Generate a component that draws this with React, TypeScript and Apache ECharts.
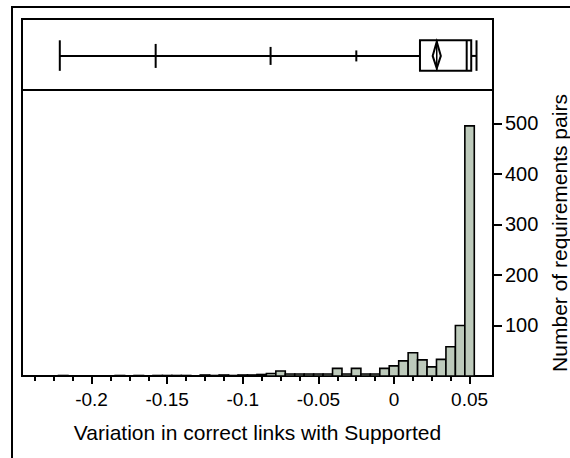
import React, { useEffect, useRef } from "react";
import * as echarts from "echarts";

// Histogram bins (bin centres, counts); bin width 0.00625
const binCenters = [
  -0.21875, -0.18125, -0.16875, -0.15625, -0.15, -0.14375, -0.1375, -0.125,
  -0.11875, -0.1125, -0.10625, -0.1, -0.09375, -0.0875, -0.08125, -0.075,
  -0.06875, -0.0625, -0.05625, -0.05, -0.04375, -0.0375, -0.03125, -0.025,
  -0.01875, -0.0125, -0.00625, 0, 0.00625, 0.0125, 0.01875, 0.025, 0.03125,
  0.0375, 0.04375, 0.05,
];
const binCounts = [
  1, 1, 1, 1, 1, 1, 1, 2,
  1, 2, 1, 2, 2, 3, 5, 10,
  4, 4, 4, 4, 4, 15, 4, 15,
  4, 4, 15, 20, 30, 46, 32, 18, 33,
  58, 100, 495,
];
const binWidth = 0.00625;

// Axis ticks / labels
const xMin = -0.246;
const xMax = 0.0655;
const xLabelValues = [-0.2, -0.15, -0.1, -0.05, 0, 0.05];
const xMinorTickValues = [
  -0.2375, -0.225, -0.2125, -0.2, -0.1875, -0.175, -0.1625, -0.15, -0.1375,
  -0.125, -0.1125, -0.1, -0.0875, -0.075, -0.0625, -0.05, -0.0375, -0.025,
  -0.0125, 0, 0.0125, 0.025, 0.0375, 0.05,
];
const yMax = 566;
const yTickValues = [100, 200, 300, 400, 500];

// Quantile box plot summary
const whiskerMin = -0.221;
const quantileTicks = [-0.1576, -0.0816, -0.0249]; // 0.5%, 2.5%, 10%
const q1 = 0.0172;
const median = 0.0481;
const q3 = 0.0511;
const whiskerMax = 0.0546;
const mean = 0.0283;
const meanCIHalf = 0.0027;

const xTitle = "Variation in correct links with Supported";
const yTitle = "Number of requirements pairs";

const FONT = "'Liberation Sans', Arial, sans-serif";

export default function App() {
  const ref = useRef<HTMLDivElement>(null);
  useEffect(() => {
    if (!ref.current) return;
    const chart = echarts.init(ref.current, undefined, { renderer: "svg" });
    const tickHalfPx = [12, 9, 5.5];
    const option: any = {
      animation: false,
      backgroundColor: "#fff",
      textStyle: { fontFamily: FONT },
      grid: [
        {
          left: 22, right: 77, top: 90, height: 286,
          outerBoundsMode: "none", containLabel: false,
          show: true, borderColor: "#000", borderWidth: 2, backgroundColor: "transparent",
        },
        {
          left: 22, right: 77, top: 19, height: 71,
          outerBoundsMode: "none", containLabel: false,
          show: true, borderColor: "#000", borderWidth: 2, backgroundColor: "transparent",
        },
      ],
      xAxis: [
        {
          type: "value", gridIndex: 0, min: xMin, max: xMax, position: "bottom",
          axisLine: { show: false, onZero: false },
          splitLine: { show: false },
          axisTick: { show: true, customValues: xMinorTickValues, length: 5, lineStyle: { color: "#000", width: 2 } },
          axisLabel: { show: false },
          name: xTitle, nameLocation: "middle", nameGap: 46,
          nameTextStyle: { fontFamily: FONT, fontSize: 21, color: "#000" },
        },
        {
          type: "value", gridIndex: 0, min: xMin, max: xMax, position: "bottom",
          axisLine: { show: false, onZero: false },
          splitLine: { show: false },
          axisTick: { show: true, customValues: xLabelValues, length: 8, lineStyle: { color: "#000", width: 2 } },
          axisLabel: {
            show: true, customValues: xLabelValues, margin: 14,
            fontFamily: FONT, fontSize: 19, color: "#000",
          },
        },
        {
          type: "value", gridIndex: 1, min: xMin, max: xMax, show: false,
        },
      ],
      yAxis: [
        {
          type: "value", gridIndex: 0, min: 0, max: yMax, position: "right",
          axisLine: { show: false, onZero: false },
          splitLine: { show: false },
          axisTick: { show: true, customValues: yTickValues, length: 9, lineStyle: { color: "#000", width: 2 } },
          axisLabel: {
            show: true, customValues: yTickValues, margin: 12,
            fontFamily: FONT, fontSize: 20, color: "#000",
          },
          name: yTitle, nameLocation: "middle", nameGap: 51, nameRotate: 90,
          nameTextStyle: { fontFamily: FONT, fontSize: 21, color: "#000" },
        },
        { type: "value", gridIndex: 1, min: 0, max: 1, show: false },
      ],
      series: [
        {
          type: "custom",
          xAxisIndex: 0,
          yAxisIndex: 0,
          data: binCenters.map((c, i) => [c, binCounts[i]]),
          renderItem: (params: any, api: any) => {
            const c = api.value(0);
            const n = api.value(1);
            const p0 = api.coord([c - binWidth / 2, n]);
            const p1 = api.coord([c + binWidth / 2, 0]);
            return {
              type: "rect",
              shape: { x: p0[0], y: p0[1], width: p1[0] - p0[0], height: p1[1] - p0[1] },
              style: { fill: "#bdcabb", stroke: "#000", lineWidth: 1.6 },
            };
          },
          z: 2,
        },
        {
          type: "custom",
          xAxisIndex: 2,
          yAxisIndex: 1,
          data: [[0]],
          renderItem: (params: any, api: any) => {
            const yc = 0.48, yTop = 0.70, yBot = 0.27, dTop = 0.68, dBot = 0.305;
            const P = (x: number, y: number) => api.coord([x, y]);
            const cy = P(0, yc)[1];
            const top = P(0, yTop)[1];
            const bot = P(0, yBot)[1];
            const ls = { stroke: "#000", lineWidth: 2 };
            const children: any[] = [];
            const xmin = P(whiskerMin, yc)[0];
            const xq1 = P(q1, yc)[0];
            const xq3 = P(q3, yc)[0];
            const xmax = P(whiskerMax, yc)[0];
            children.push({ type: "line", shape: { x1: xmin, y1: cy, x2: xq1, y2: cy }, style: ls });
            children.push({ type: "line", shape: { x1: xq3, y1: cy, x2: xmax, y2: cy }, style: ls });
            children.push({ type: "line", shape: { x1: xmin, y1: top, x2: xmin, y2: bot }, style: ls });
            children.push({ type: "line", shape: { x1: xmax, y1: top, x2: xmax, y2: bot }, style: ls });
            quantileTicks.forEach((q, i) => {
              const x = P(q, yc)[0];
              children.push({ type: "line", shape: { x1: x, y1: cy - tickHalfPx[i], x2: x, y2: cy + tickHalfPx[i] }, style: ls });
            });
            children.push({
              type: "rect",
              shape: { x: xq1, y: top, width: xq3 - xq1, height: bot - top },
              style: { fill: "#fff", stroke: "#000", lineWidth: 2 },
            });
            const xmed = P(median, yc)[0];
            children.push({ type: "line", shape: { x1: xmed, y1: top, x2: xmed, y2: bot }, style: ls });
            const xm = P(mean, yc)[0];
            const xmLo = P(mean - meanCIHalf, yc)[0];
            const xmHi = P(mean + meanCIHalf, yc)[0];
            const dt = P(0, dTop)[1];
            const db = P(0, dBot)[1];
            children.push({
              type: "polygon",
              shape: { points: [[xmLo, cy], [xm, dt], [xmHi, cy], [xm, db]] },
              style: { fill: "none", stroke: "#000", lineWidth: 2 },
            });
            children.push({ type: "line", shape: { x1: xm, y1: top, x2: xm, y2: bot }, style: { stroke: "#000", lineWidth: 1.5 } });
            return { type: "group", children };
          },
          z: 3,
        },
      ],
      graphic: [
        {
          type: "rect",
          shape: { x: 12, y: 7, width: 620, height: 520 },
          style: { fill: "none", stroke: "#000", lineWidth: 2 },
          silent: true,
        },
      ],
    };
    chart.setOption(option);
    return () => chart.dispose();
  }, []);
  return (
    <div
      ref={ref}
      style={{ position: "fixed", left: 0, top: 0, width: 570, height: 458, background: "#fff" }}
    />
  );
}
